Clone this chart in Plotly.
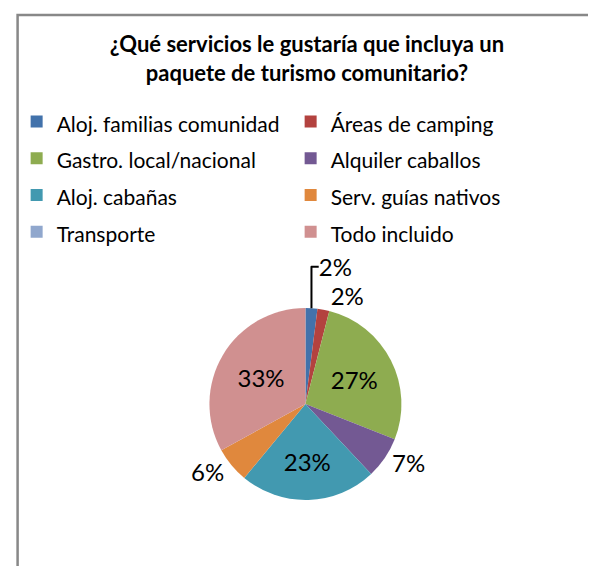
import plotly.graph_objects as go

categories = ["Aloj. familias comunidad", "Áreas de camping", "Gastro. local/nacional",
              "Alquiler caballos", "Aloj. cabañas", "Serv. guías nativos",
              "Transporte", "Todo incluido"]
values = [2, 2, 27, 7, 23, 6, 0, 33]
colors = ["#4272AB", "#B3423F", "#8EAC50", "#735993", "#4299B0", "#E0883D", "#90A7CD", "#D09090"]
text_pos = ["outside", "outside", "inside", "outside", "inside", "outside", "none", "inside"]

W, H = 596, 566

legend_labels = ['<span style="font-size:21px">%s</span>' % c for c in categories]

fig = go.Figure(go.Pie(
    labels=legend_labels,
    values=values,
    sort=False,
    direction="clockwise",
    rotation=0,
    marker=dict(colors=colors, line=dict(width=0)),
    textinfo="percent",
    textposition=text_pos,
    textfont=dict(family="Lato", size=24, color="#000000"),
    insidetextorientation="horizontal",
    domain=dict(x=[0.2, 0.84], y=[1 - 492 / H, 1 - 300 / H]),
    showlegend=True,
    hoverinfo="percent",
))

fig.update_layout(
    width=W, height=H,
    margin=dict(l=0, r=0, t=0, b=0),
    paper_bgcolor="white",
    plot_bgcolor="white",
    title=dict(
        text="<b>¿Qué servicios le gustaría que incluya un<br>paquete de turismo comunitario?</b>",
        x=299 / W, xanchor="center",
        y=1 - 44 / H, yanchor="top", yref="container",
        font=dict(family="Lato", size=22, color="#000000"),
    ),
    legend=dict(
        orientation="h",
        x=9 / W, xanchor="left",
        y=1 - 90 / H, yanchor="top",
        entrywidth=229, entrywidthmode="pixels",
        font=dict(family="Lato", size=26, color="#000000"),
        itemclick=False,
        bgcolor="rgba(0,0,0,0)",
        traceorder="normal",
    ),
    shapes=[dict(
        type="rect", xref="paper", yref="paper",
        x0=10 / W, x1=1.2, y0=-0.2, y1=1 - 7 / H,
        line=dict(color="#888888", width=2.5),
        fillcolor="rgba(0,0,0,0)",
    )],
)

fig.write_html("out.html")
